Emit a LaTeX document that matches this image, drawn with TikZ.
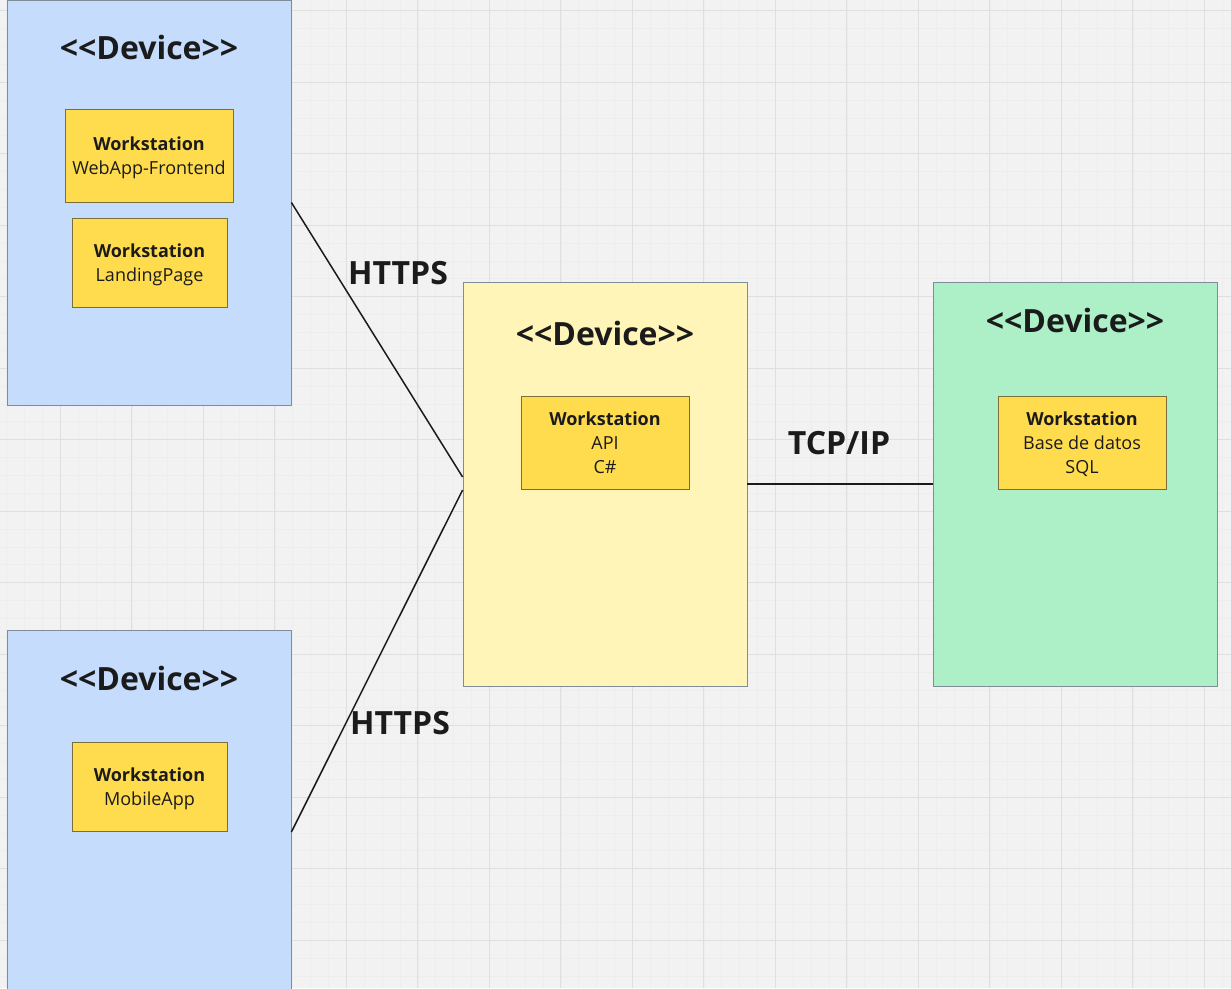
\documentclass[tikz,border=0pt]{standalone}
\usepackage{fontspec}
\setmainfont{Open Sans}
\definecolor{bgc}{HTML}{F2F2F2}
\definecolor{gmaj}{HTML}{DFDFDF}
\definecolor{gmin}{HTML}{EDEDED}
\definecolor{blu}{HTML}{C6DCFD}
\definecolor{yel}{HTML}{FFF5B8}
\definecolor{grn}{HTML}{ADF0C8}
\definecolor{wsf}{HTML}{FFDB4E}
\definecolor{bord}{HTML}{7F8C99}
\definecolor{wsb}{HTML}{7A6E3A}
\definecolor{txt}{HTML}{1B1B1B}
\tikzset{
  device/.style={draw=bord, line width=0.8pt, minimum width=284pt, minimum height=404pt, inner sep=0pt},
  devtitle/.style={font=\fontsize{32}{38}\selectfont\bfseries, text=txt, inner sep=0pt},
  wsbox/.style={draw=wsb, fill=wsf, line width=0.8pt, inner sep=0pt, align=center, text=txt, text depth=0pt, font=\fontsize{18}{24.3}\selectfont},
  proto/.style={font=\fontsize{32}{38}\selectfont\bfseries, text=txt, inner sep=0pt},
  conn/.style={draw=txt, line width=1.5pt},
}
\begin{document}
\begin{tikzpicture}[x=1pt,y=-1pt]
\useasboundingbox (0,0) rectangle (1231,988);
\clip (0,0) rectangle (1231,988);
\fill[bgc] (0,0) rectangle (1231,988);
% minor grid
\foreach \i in {0,...,72}{
  \draw[gmin, line width=0.6pt] ({-11.1+\i*17.875},0) -- ({-11.1+\i*17.875},988);
}
\foreach \i in {0,...,58}{
  \draw[gmin, line width=0.6pt] (0,{-7.3+\i*17.875}) -- (1231,{-7.3+\i*17.875});
}
% major grid
\foreach \i in {0,...,18}{
  \draw[gmaj, line width=1pt] ({-11.1+\i*71.5},0) -- ({-11.1+\i*71.5},988);
}
\foreach \i in {0,...,14}{
  \draw[gmaj, line width=1pt] (0,{10.6+\i*71.5}) -- (1231,{10.6+\i*71.5});
}
% devices
\node[device, fill=blu, minimum height=405pt] (d1) at (149,202.5) {};
\node[device, fill=blu] (d2) at (149,832) {};
\node[device, fill=yel] (d3) at (605,484) {};
\node[device, fill=grn] (d4) at (1075,484) {};
% titles
\node[devtitle] (t1) at (149,47) {{<}{<}Device{>}{>}};
\node[devtitle] (t2) at (149,678) {{<}{<}Device{>}{>}};
\node[devtitle] (t3) at (605,333) {{<}{<}Device{>}{>}};
\node[devtitle] (t4) at (1075,320) {{<}{<}Device{>}{>}};
% workstations
\node[wsbox, minimum width=168pt, minimum height=93pt] (w1) at (149,155.5) {\textbf{Workstation}\\WebApp-Frontend};
\node[wsbox, minimum width=155pt, minimum height=89pt] (w2) at (149.5,262.5) {\textbf{Workstation}\\LandingPage};
\node[wsbox, minimum width=155pt, minimum height=89pt] (w3) at (149.5,786.5) {\textbf{Workstation}\\MobileApp};
\node[wsbox, minimum width=168pt, minimum height=93pt] (w4) at (605,442.5) {\textbf{Workstation}\\API\\C\#};
\node[wsbox, minimum width=168pt, minimum height=93pt] (w5) at (1082,442.5) {\textbf{Workstation}\\Base de datos\\SQL};
% connectors
\draw[conn] (d1.east) -- ([yshift=7pt]d3.west);
\draw[conn] (d2.east) -- ([yshift=-6pt]d3.west);
\draw[conn] (d3.east) -- (d4.west);
% labels
\node[proto] (p1) at (398,273) {HTTPS};
\node[proto] (p2) at (400,723) {HTTPS};
\node[proto] (p3) at (839,443) {TCP/IP};
\end{tikzpicture}
\end{document}
